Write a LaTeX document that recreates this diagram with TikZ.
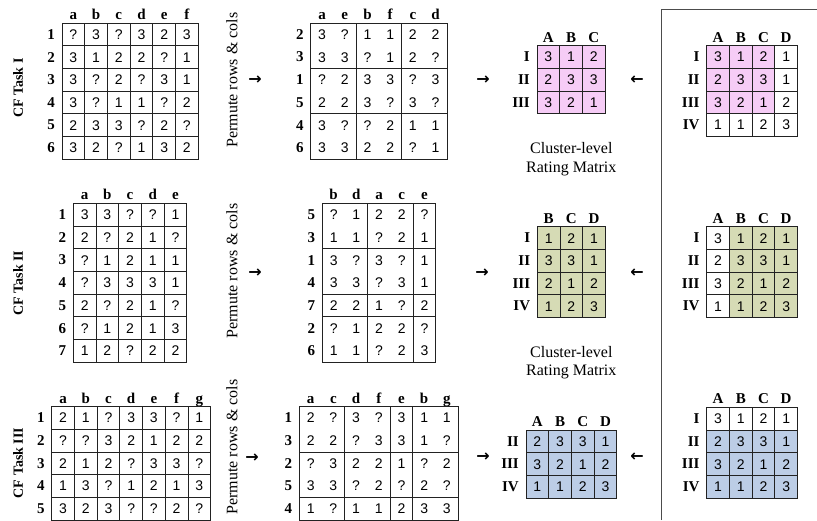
\documentclass[tikz,border=0pt]{standalone}
\usepackage{fontspec}
\setmainfont{Liberation Serif}
\newfontfamily\numfont{Liberation Sans}
\newfontfamily\arrfont{DejaVu Sans}
\definecolor{pinkc}{HTML}{F6CCF6}
\definecolor{greenc}{HTML}{D6DBB5}
\definecolor{bluec}{HTML}{BCCDE6}
\definecolor{linec}{HTML}{222222}
\def\csz{22.7}
\tikzset{
  cell/.style={draw=linec, line width=0.8pt, minimum width=\csz pt, minimum height=\csz pt,
    inner sep=0pt, text height=10pt, text depth=0pt, font={\numfont\fontsize{14}{16}\selectfont}},
  val/.style={minimum width=\csz pt, minimum height=\csz pt,
    inner sep=0pt, text height=10pt, text depth=0pt, font={\numfont\fontsize{14}{16}\selectfont}},
  hdr/.style={inner sep=0pt, anchor=base, font={\bfseries\fontsize{15}{17}\selectfont}},
  rlab/.style={inner sep=0pt, anchor=east, font={\bfseries\fontsize{15}{17}\selectfont}},
  blk/.style={draw=linec, line width=0.8pt},
  tasklab/.style={rotate=90, inner sep=0pt, font={\bfseries\fontsize{14}{16}\selectfont}},
  permlab/.style={rotate=90, inner sep=0pt, font={\fontsize{16}{18}\selectfont}},
  cllab/.style={inner sep=0pt, anchor=base, font={\fontsize{16}{18}\selectfont}},
  arrsym/.style={inner sep=0pt, font={\arrfont\bfseries\fontsize{16}{18}\selectfont}},
  framec/.style={draw=black!70, line width=0.9pt}
}
\newcommand\fullmat[4]{%
  \foreach \rr [count=\ii] in {#4} {%
    \foreach \vv [count=\jj] in \rr {%
      \node[cell] (#1-\ii-\jj) at ({#2+(\jj-0.5)*\csz},{#3+(\ii-0.5)*\csz}) {\vv};
    }}}
\newcommand\permmat[4]{%
  \foreach \rr [count=\ii] in {#4} {%
    \foreach \vv [count=\jj] in \rr {%
      \node[val] (#1-\ii-\jj) at ({#2+(\jj-0.5)*\csz},{#3+(\ii-0.5)*\csz}) {\vv};
    }}}
\newcommand\colhdr[4]{%
  \foreach \hh [count=\jj] in {#4} {%
    \node[hdr] (#1-h\jj) at ({#2+(\jj-0.5)*\csz},{#3-3.5}) {\hh};}}
\newcommand\rowhdr[4]{%
  \foreach \hh [count=\ii] in {#4} {%
    \node[rlab] (#1-r\ii) at ({#2-7},{#3+(\ii-0.5)*\csz}) {\hh};}}
\newcommand\blocks[6]{%
  \draw[blk] (#1,#2) rectangle ({#1+#3*\csz},{#2+#4*\csz});
  \foreach \kk in {#5} {\draw[blk] ({#1+\kk*\csz},#2) -- ({#1+\kk*\csz},{#2+#4*\csz});}
  \foreach \kk in {#6} {\draw[blk] (#1,{#2+\kk*\csz}) -- ({#1+#3*\csz},{#2+\kk*\csz});}}

\begin{document}
\begin{tikzpicture}[x=1pt,y=-1pt]
\useasboundingbox (0,0) rectangle (817,520);

% frame on the right
\draw[framec] (661.7,520) -- (661.7,9.3) -- (817,9.3);

% ================= Task I =================
\node[tasklab] (t1lab) at (18,88) {CF Task I};
\colhdr{t1o}{62}{23}{a,b,c,d,e,f}
\rowhdr{t1o}{62}{23}{1,2,3,4,5,6}
\fullmat{t1o}{62}{23}{{?,3,?,3,2,3},{3,1,2,2,?,1},{3,?,2,?,3,1},{3,?,1,1,?,2},{2,3,3,?,2,?},{3,2,?,1,3,2}}

\node[permlab] (p1lab) at (232,80) {Permute rows \& cols};
\node[arrsym] (a1l) at (255,80) {→};

\colhdr{t1p}{310.7}{23}{a,e,b,f,c,d}
\rowhdr{t1p}{310.7}{23}{2,3,1,5,4,6}
\permmat{t1p}{310.7}{23}{{3,?,1,1,2,2},{3,3,?,1,2,?},{?,2,3,3,?,3},{2,2,3,?,3,?},{3,?,?,2,1,1},{3,3,2,2,?,1}}
\blocks{310.7}{23}{6}{6}{2,4}{2,4}

\node[arrsym] (a1m) at (483,80) {→};
\fill[pinkc] (537,45.5) rectangle ({537+3*\csz},{45.5+3*\csz});
\colhdr{c1}{537}{45.5}{A,B,C}
\rowhdr{c1}{537}{45.5}{I,II,III}
\fullmat{c1}{537}{45.5}{{3,1,2},{2,3,3},{3,2,1}}
\node[cllab] (cl1a) at (571.3,153.5) {Cluster-level};
\node[cllab] (cl1b) at (571.3,172) {Rating Matrix};
\node[arrsym] (a1r) at (637,80) {←};

\fill[pinkc] (706.7,45.5) rectangle ({706.7+3*\csz},{45.5+3*\csz});
\colhdr{r1}{706.7}{45.5}{A,B,C,D}
\rowhdr{r1}{706.7}{45.5}{I,II,III,IV}
\fullmat{r1}{706.7}{45.5}{{3,1,2,1},{2,3,3,1},{3,2,1,2},{1,1,2,3}}

% ================= Task II =================
\node[tasklab] (t2lab) at (18,283) {CF Task II};
\colhdr{t2o}{73.3}{203.3}{a,b,c,d,e}
\rowhdr{t2o}{73.3}{203.3}{1,2,3,4,5,6,7}
\fullmat{t2o}{73.3}{203.3}{{3,3,?,?,1},{2,?,2,1,?},{?,1,2,1,1},{?,3,3,3,1},{2,?,2,1,?},{?,1,2,1,3},{1,2,?,2,2}}

\node[permlab] (p2lab) at (232,271) {Permute rows \& cols};
\node[arrsym] (a2l) at (255,273) {→};

\colhdr{t2p}{322.3}{203.3}{b,d,a,c,e}
\rowhdr{t2p}{322.3}{203.3}{5,3,1,4,7,2,6}
\permmat{t2p}{322.3}{203.3}{{?,1,2,2,?},{1,1,?,2,1},{3,?,3,?,1},{3,3,?,3,1},{2,2,1,?,2},{?,1,2,2,?},{1,1,?,2,3}}
\blocks{322.3}{203.3}{5}{7}{2,4}{2,4,5}

\node[arrsym] (a2m) at (482,273) {→};
\fill[greenc] (537.3,226.7) rectangle ({537.3+3*\csz},{226.7+4*\csz});
\colhdr{c2}{537.3}{226.7}{B,C,D}
\rowhdr{c2}{537.3}{226.7}{I,II,III,IV}
\fullmat{c2}{537.3}{226.7}{{1,2,1},{3,3,1},{2,1,2},{1,2,3}}
\node[cllab] (cl2a) at (571.3,357) {Cluster-level};
\node[cllab] (cl2b) at (571.3,375.5) {Rating Matrix};
\node[arrsym] (a2r) at (637,273) {←};

\fill[greenc] ({706.7+\csz},226.7) rectangle ({706.7+4*\csz},{226.7+4*\csz});
\colhdr{r2}{706.7}{226.7}{A,B,C,D}
\rowhdr{r2}{706.7}{226.7}{I,II,III,IV}
\fullmat{r2}{706.7}{226.7}{{3,1,2,1},{2,3,3,1},{3,2,1,2},{1,1,2,3}}

% ================= Task III =================
\node[tasklab] (t3lab) at (18,463) {CF Task III};
\colhdr{t3o}{51.7}{406.5}{a,b,c,d,e,f,g}
\rowhdr{t3o}{51.7}{406.5}{1,2,3,4,5}
\fullmat{t3o}{51.7}{406.5}{{2,1,?,3,3,?,1},{?,?,3,2,1,2,2},{2,1,2,?,3,3,?},{1,3,?,1,2,1,3},{3,2,3,?,?,2,?}}

\node[permlab] (p3lab) at (232,447) {Permute rows \& cols};
\node[arrsym] (a3l) at (252,458) {→};

\colhdr{t3p}{299.3}{406.5}{a,c,d,f,e,b,g}
\rowhdr{t3p}{299.3}{406.5}{1,3,2,5,4}
\permmat{t3p}{299.3}{406.5}{{2,?,3,?,3,1,1},{2,2,?,3,3,1,?},{?,3,2,2,1,?,2},{3,3,?,2,?,2,?},{1,?,1,1,2,3,3}}
\blocks{299.3}{406.5}{7}{5}{2,4,5}{2,4}

\node[arrsym] (a3m) at (483,457) {→};
\fill[bluec] (526,430) rectangle ({526+4*\csz},{430+3*\csz});
\colhdr{c3}{526}{430}{A,B,C,D}
\rowhdr{c3}{526}{430}{II,III,IV}
\fullmat{c3}{526}{430}{{2,3,3,1},{3,2,1,2},{1,1,2,3}}
\node[arrsym] (a3r) at (637,457) {←};

\fill[bluec] (706.7,{407.3+\csz}) rectangle ({706.7+4*\csz},{407.3+4*\csz});
\colhdr{r3}{706.7}{407.3}{A,B,C,D}
\rowhdr{r3}{706.7}{407.3}{I,II,III,IV}
\fullmat{r3}{706.7}{407.3}{{3,1,2,1},{2,3,3,1},{3,2,1,2},{1,1,2,3}}

\end{tikzpicture}
\end{document}
